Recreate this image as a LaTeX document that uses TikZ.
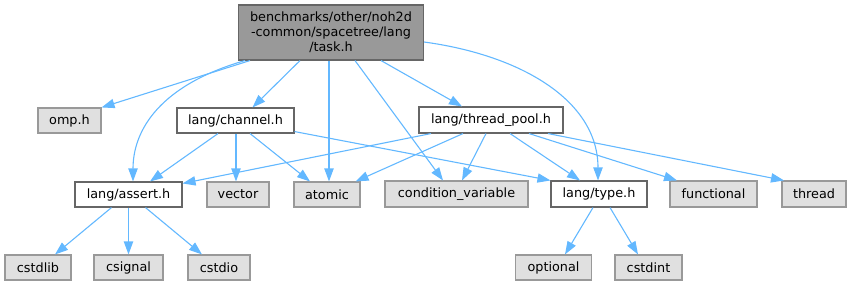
\documentclass[tikz,border=0pt]{standalone}
\usepackage{fontspec}
\setmainfont{DejaVu Sans}
\usetikzlibrary{arrows.meta}
\definecolor{edgeblue}{HTML}{63B8FF}
\definecolor{sysfill}{HTML}{E0E0E0}
\definecolor{sysline}{HTML}{999999}
\definecolor{rootfill}{HTML}{999999}
\definecolor{darkline}{HTML}{666666}
\begin{document}
\begin{tikzpicture}[x=1pt,y=-1pt,
  box/.style={draw, line width=1.1pt, inner sep=0pt, align=center,
    font=\fontsize{12.8}{15}\selectfont},
  sysbox/.style={box, draw=sysline, fill=sysfill},
  localbox/.style={box, draw=darkline, fill=white},
  rootbox/.style={box, draw=darkline, fill=rootfill},
  dep/.style={draw=edgeblue, line width=1.1pt,
    -{Triangle[length=13pt,width=9.3pt,fill=edgeblue]}}]
\useasboundingbox (0,0) rectangle (851,285);

% headers
\node[rootbox, minimum width=185pt, minimum height=55pt] (task) at (331,32.5)
  {benchmarks/other/noh2d\\-common/spacetree/lang\\/task.h};
\node[sysbox, minimum width=63pt, minimum height=25pt] (omp) at (69.5,120.5) {omp.h};
\node[localbox, minimum width=117pt, minimum height=25pt] (channel) at (235.5,120.5) {lang/channel.h};
\node[localbox, minimum width=144pt, minimum height=26pt] (pool) at (491,120) {lang/thread\_pool.h};
\node[localbox, minimum width=107pt, minimum height=25pt] (assert) at (128.5,194.5) {lang/assert.h};
\node[sysbox, minimum width=62pt, minimum height=25pt] (vector) at (238,194.5) {vector};
\node[sysbox, minimum width=66pt, minimum height=25pt] (atomic) at (327,194.5) {atomic};
\node[sysbox, minimum width=143pt, minimum height=26pt] (condvar) at (456.5,194) {condition\_variable};
\node[localbox, minimum width=96pt, minimum height=26pt] (type) at (599,194) {lang/type.h};
\node[sysbox, minimum width=87pt, minimum height=26pt] (functional) at (713.5,194) {functional};
\node[sysbox, minimum width=64pt, minimum height=26pt] (thread) at (814,194) {thread};
\node[sysbox, minimum width=66pt, minimum height=25pt] (cstdlib) at (38,267.5) {cstdlib};
\node[sysbox, minimum width=69pt, minimum height=25pt] (csignal) at (128.5,267.5) {csignal};
\node[sysbox, minimum width=62pt, minimum height=25pt] (cstdio) at (219,267.5) {cstdio};
\node[sysbox, minimum width=76pt, minimum height=25pt] (optional) at (553.5,267.5) {optional};
\node[sysbox, minimum width=67pt, minimum height=25pt] (cstdint) at (648.5,267.5) {cstdint};

% includes of task.h
\draw[dep] ([xshift=-81pt]task.south) -- (omp.north east);
\draw[dep] ([xshift=-86pt]task.south) .. controls (160,85) and (133,130) .. ([xshift=4.5pt]assert.north);
\draw[dep] ([xshift=-31pt]task.south) -- ([xshift=17pt]channel.north);
\draw[dep] ([xshift=-2pt]task.south) -- ([xshift=2pt]atomic.north);
\draw[dep] ([xshift=24pt]task.south) -- ([xshift=-13.5pt]condvar.north);
\draw[dep] ([xshift=50pt]task.south) -- ([xshift=-29pt]pool.north);
\draw[dep] ([yshift=-9.5pt]task.east) .. controls (520,55) and (598,100) .. ([xshift=-1pt]type.north);

% includes of lang/channel.h
\draw[dep] ([xshift=-17.5pt]channel.south) -- ([xshift=21.5pt]assert.north);
\draw[dep] ([xshift=0.5pt]channel.south) -- ([xshift=-2pt]vector.north);
\draw[dep] ([xshift=14.5pt]channel.south) -- ([xshift=-17pt]atomic.north);
\draw[dep] ([yshift=2pt]channel.south east) -- (type.north west);

% includes of lang/thread_pool.h
\draw[dep] ([xshift=-60pt]pool.south) -- ([yshift=-2pt]assert.north east);
\draw[dep] ([xshift=-28pt]pool.south) -- ([xshift=-5pt]atomic.north east);
\draw[dep] ([xshift=-5pt]pool.south) -- ([xshift=5.5pt]condvar.north);
\draw[dep] ([xshift=19pt]pool.south) -- ([xshift=-19pt]type.north);
\draw[dep] ([xshift=38pt]pool.south) -- ([xshift=-36.5pt]functional.north);
\draw[dep] ([xshift=57pt]pool.south) -- ([xshift=-30pt]thread.north);

% includes of lang/assert.h
\draw[dep] ([xshift=-17pt]assert.south) -- ([xshift=17pt]cstdlib.north);
\draw[dep] (assert.south) -- (csignal.north);
\draw[dep] ([xshift=17pt]assert.south) -- ([xshift=-17pt]cstdio.north);

% includes of lang/type.h
\draw[dep] ([xshift=-6pt]type.south) -- ([xshift=11.5pt]optional.north);
\draw[dep] ([xshift=11pt]type.south) -- ([xshift=-10.5pt]cstdint.north);
\end{tikzpicture}
\end{document}
